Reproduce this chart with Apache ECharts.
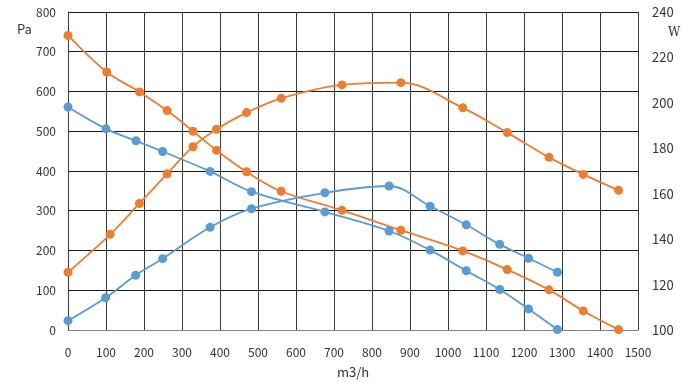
<!DOCTYPE html>
<html><head><meta charset="utf-8">
<script src="https://cdn.jsdelivr.net/npm/echarts@6/dist/echarts.min.js"></script>
<style>html,body{margin:0;padding:0;background:#fff}#c{width:691px;height:384px}</style>
</head><body><div id="c"></div>
<script>
// Blue pressure curve (Pa)
const bluePaX = [0, 100, 179, 249, 374, 483, 676, 845, 953, 1048, 1136, 1212, 1288];
const bluePaY = [561, 506, 476, 449, 399, 348, 297, 249, 201, 149, 102, 53, 1];
// Orange pressure curve (Pa)
const orangePaX = [0, 102, 188, 261, 329, 391, 470, 561, 721, 876, 1039, 1156, 1266, 1356, 1449];
const orangePaY = [741, 649, 599, 552, 500, 452, 398, 349, 301, 251, 199, 152, 101, 48, 1];
// Blue power curve (W)
const blueWX = [0, 99, 178, 249, 374, 483, 676, 845, 953, 1048, 1136, 1212, 1288];
const blueWY = [104.1, 114.2, 124.1, 131.4, 145.2, 153.4, 160.4, 163.4, 154.5, 146.3, 137.7, 131.6, 125.4];
// Orange power curve (W)
const orangeWX = [0, 111, 188, 261, 329, 391, 470, 561, 721, 876, 1039, 1156, 1266, 1356, 1449];
const orangeWY = [125.4, 142.1, 155.7, 168.8, 180.7, 188.4, 195.7, 202.0, 207.9, 208.9, 197.8, 186.9, 176.0, 168.5, 161.5];

const zip = (xs, ys) => xs.map((x, i) => [x, ys[i]]);
const BLUE = '#5B9BD5', ORANGE = '#ED7D31';
const FONT = "'Noto Sans CJK JP', 'DejaVu Sans', sans-serif";
const mk = (data, color, yi) => ({
  type: 'line', data, yAxisIndex: yi, smooth: 0.35, symbol: 'circle', symbolSize: 9,
  lineStyle: { color, width: 1.8 }, itemStyle: { color }, animation: false
});

const chart = echarts.init(document.getElementById('c'));
chart.setOption({
  animation: false,
  grid: { left: 68, right: 53, top: 12, bottom: 53 },
  xAxis: {
    type: 'value', min: 0, max: 1500, interval: 100,
    name: 'm3/h', nameLocation: 'middle', nameGap: 36,
    nameTextStyle: { color: '#333', fontSize: 13, fontFamily: FONT },
    axisLine: { show: true, lineStyle: { color: '#7f7f7f' } },
    axisTick: { show: false },
    axisLabel: { color: '#333', fontSize: 12, margin: 16, fontFamily: FONT, formatter: v => String(v) },
    splitLine: { show: true, lineStyle: { color: '#3a3a3a', width: 1 } }
  },
  yAxis: [{
    type: 'value', min: 0, max: 800, interval: 100,
    axisLine: { show: true, lineStyle: { color: '#3a3a3a' } },
    axisTick: { show: false },
    axisLabel: { color: '#333', fontSize: 12, margin: 12, fontFamily: FONT, formatter: v => String(v) },
    splitLine: { show: true, lineStyle: { color: '#1a1a1a', width: 1 } }
  }, {
    type: 'value', min: 100, max: 240, interval: 20, position: 'right',
    axisLine: { show: false }, axisTick: { show: false },
    axisLabel: { color: '#333', fontSize: 13, margin: 14, fontFamily: FONT, formatter: v => String(v) },
    splitLine: { show: false }
  }],
  graphic: [
    { type: 'text', left: 17, top: 23, style: { text: 'Pa', fill: '#333', font: "13px " + FONT } },
    { type: 'text', left: 668, top: 27, style: { text: 'W', fill: '#333', font: "12px 'DejaVu Serif', serif" } }
  ],
  series: [
    mk(zip(bluePaX, bluePaY), BLUE, 0),
    mk(zip(orangePaX, orangePaY), ORANGE, 0),
    mk(zip(blueWX, blueWY), BLUE, 1),
    mk(zip(orangeWX, orangeWY), ORANGE, 1)
  ]
});
</script></body></html>
